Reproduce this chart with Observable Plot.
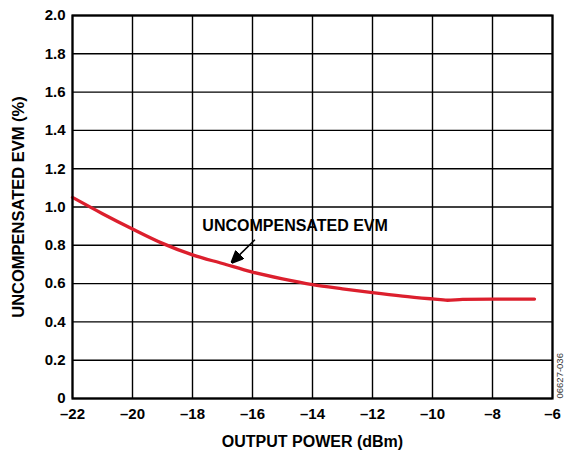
<!DOCTYPE html>
<html>
<head>
<meta charset="utf-8">
<script src="https://cdn.jsdelivr.net/npm/d3@7"></script>
<script src="https://cdn.jsdelivr.net/npm/@observablehq/plot@0.6"></script>
<style>
  html, body { margin: 0; padding: 0; background: #fff; }
</style>
</head>
<body>
<div id="chart"></div>
<script>
// Data
const outputPower = [-22, -21, -20, -19, -18, -17, -16, -15, -14, -13, -12, -11, -10, -9.5, -9, -8, -7, -6.6];
const evm = [1.05, 0.965, 0.885, 0.81, 0.75, 0.705, 0.66, 0.625, 0.595, 0.573, 0.553, 0.535, 0.52, 0.513, 0.518, 0.519, 0.519, 0.519];

const xTicks = [-22, -20, -18, -16, -14, -12, -10, -8, -6];
const yTicks = [0, 0.2, 0.4, 0.6, 0.8, 1.0, 1.2, 1.4, 1.6, 1.8, 2.0];

const xTitle = "OUTPUT POWER (dBm)";
const yTitle = "UNCOMPENSATED EVM (%)";
const annotationLabel = ["UNCOMPENSATED EVM"];
const annotationAt = [{x: -14.58, y: 0.903}];
const arrowFrom = [{x: -15.92, y: 0.829}];
const arrowTo = [{x: -16.68, y: 0.712}];
const figureId = "06627-036";

const data = outputPower.map((x, i) => ({x, y: evm[i]}));
const arrowData = [{x1: arrowFrom[0].x, y1: arrowFrom[0].y, x2: arrowTo[0].x, y2: arrowTo[0].y}];

const fmtX = d => d < 0 ? "\u2013" + Math.abs(d) : String(d);
const fmtY = d => d === 0 ? "0" : d.toFixed(1);

// filled arrowhead marker
function filledArrow(color, context) {
  const marker = d3.create("svg:marker")
    .attr("viewBox", "0 -5 10 10")
    .attr("refX", 9)
    .attr("refY", 0)
    .attr("markerUnits", "userSpaceOnUse")
    .attr("markerWidth", 12)
    .attr("markerHeight", 12)
    .attr("orient", "auto");
  marker.append("path").attr("d", "M0,-4.5L10,0L0,4.5Z").attr("fill", "black");
  return marker.node();
}

const font = "'Liberation Sans', Arial, Helvetica, sans-serif";

const chart = Plot.plot({
  width: 566,
  height: 454,
  marginLeft: 72,
  marginRight: 14,
  marginTop: 15,
  marginBottom: 56,
  style: {fontFamily: font, fontWeight: "bold", fontSize: "15px", background: "#fff", color: "#000"},
  x: {domain: [-22, -6]},
  y: {domain: [0, 2]},
  marks: [
    Plot.gridX(xTicks, {stroke: "#000", strokeOpacity: 1, strokeWidth: 1.4}),
    Plot.gridY(yTicks, {stroke: "#000", strokeOpacity: 1, strokeWidth: 1.4}),
    Plot.line(data, {x: "x", y: "y", stroke: "#dc1f2d", strokeWidth: 3.3, curve: "monotone-x"}),
    Plot.frame({stroke: "#000", strokeWidth: 2.2}),
    Plot.axisX(xTicks, {tickSize: 0, tickPadding: 10, tickFormat: fmtX, label: null, fontSize: 15, fontWeight: "bold"}),
    Plot.axisY(yTicks, {tickSize: 0, tickPadding: 7, tickFormat: fmtY, label: null, fontSize: 15, fontWeight: "bold"}),
    Plot.text([xTitle], {frameAnchor: "bottom", dy: 43, fontSize: 16, fontWeight: "bold", lineAnchor: "middle"}),
    Plot.text([yTitle], {frameAnchor: "left", dx: -54, rotate: -90, textAnchor: "middle", fontSize: 16.5, fontWeight: "bold"}),
    Plot.text(annotationLabel, {x: () => annotationAt[0].x, y: () => annotationAt[0].y, fontSize: 16, fontWeight: "bold"}),
    Plot.link(arrowData, {x1: "x1", y1: "y1", x2: "x2", y2: "y2", stroke: "#000", strokeWidth: 1.6, markerEnd: filledArrow}),
    Plot.text([figureId], {frameAnchor: "bottom-right", dx: 10.5, rotate: -90, textAnchor: "start", fontSize: 9.5, fontWeight: "normal", fill: "#333"})
  ]
});

document.getElementById("chart").appendChild(chart);
</script>
</body>
</html>
